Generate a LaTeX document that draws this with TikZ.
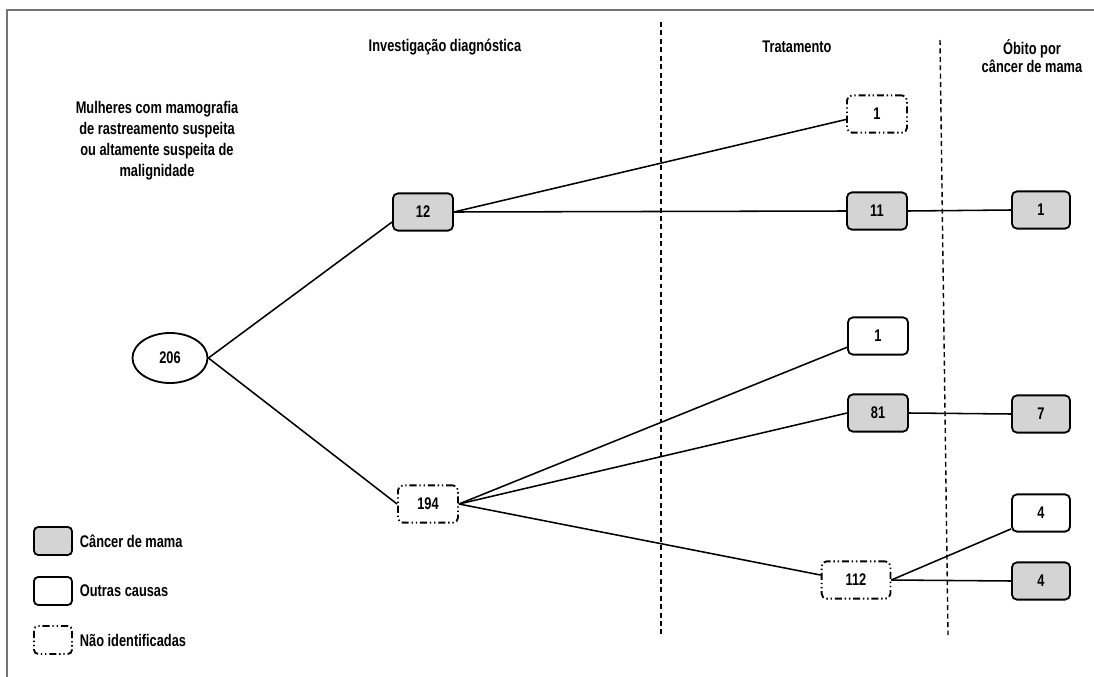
\documentclass[tikz,border=0pt]{standalone}
\usepackage{fontspec}
\setmainfont{Liberation Sans}[FakeStretch=0.76]
\usepackage{xcolor}
\usepackage{tikz}
\usetikzlibrary{shapes.geometric}
\usetikzlibrary{positioning}

\tikzset{
	boite/.style={draw,line width=1.3pt,rounded corners=3.5pt,minimum width=1.5cm,minimum height=0.93cm,inner sep=2pt},
	cancer/.style={boite,fill=black!17},
	autre/.style={boite,fill=white},
	inconnu/.style={boite,fill=white,dash pattern=on 5pt off 2pt on 1pt off 2pt on 1pt off 2pt},
	lien/.style={line width=1.1pt},
	separ/.style={line width=1pt,dash pattern=on 3.5pt off 2.5pt},
	legende/.style={line width=1.3pt,rounded corners=3pt,minimum width=0.95cm,minimum height=0.7cm}
}

\begin{document}
\begin{tikzpicture}[x=0.025cm,y=-0.025cm,font=\fontsize{12}{15}\selectfont\bfseries]
\useasboundingbox (0,0) rectangle (1094,677);
%cadre
\draw[black!55,line width=0.9pt] (7,677)--(7,10)--(1094,10);
%titres
\node (H1) at (445,47) {Investiga\c{c}\~ao diagn\'ostica};
\node (H2) at (797,47) {Tratamento};
\node[align=center,font=\fontsize{12}{13}\selectfont\bfseries] (H3) at (1032,56) {\'Obito por\\c\^ancer de mama};
\node[align=center] (P) at (157,141) {Mulheres com mamografia\\de rastreamento suspeita\\ou altamente suspeita de\\malignidade};
%separations
\draw[separ] (661,22)--(661,635);
\draw[separ] (940,40)--(948,635);

%arbre
\node[ellipse,draw,line width=1.3pt,minimum width=1.875cm,minimum height=1.25cm] (R) at (170,358) {206};
\node[cancer] (A) at (423,212) {12};
\node[inconnu] (B) at (428,504) {194};
\node[inconnu] (T1) at (877,114) {1};
\node[cancer] (T2) at (877,211) {11};
\node[autre] (T3) at (878,336) {1};
\node[cancer] (T4) at (878,413) {81};
\node[inconnu,minimum width=1.72cm] (T5) at (856,580) {112};
\node[cancer,minimum width=1.45cm] (O1) at (1041,210) {1};
\node[cancer,minimum width=1.45cm] (O2) at (1041,414) {7};
\node[autre,minimum width=1.45cm] (O3) at (1041,513) {4};
\node[cancer,minimum width=1.45cm] (O4) at (1041,581) {4};

\draw[lien] (R.east) -- (A.198);
\draw[lien] (R.east) -- (B.west);
\draw[lien] (A.east) -- (T1.190);
\draw[lien] (A.east) -- (T2.west);
\draw[lien] (T2.east) -- (O1.west);
\draw[lien] (B.east) -- (T3.200);
\draw[lien] (B.east) -- (T4.west);
\draw[lien] (B.east) -- (T5.172);
\draw[lien] (T4.east) -- (O2.west);
\draw[lien] (T5.east) -- (O3.208);
\draw[lien] (T5.east) -- (O4.west);

%legende
\node[legende,draw,fill=black!17] (L1) at (53,541) {};
\node[legende,draw] (L2) at (53,591) {};
\node[legende,draw,dash pattern=on 5pt off 2pt on 1pt off 2pt on 1pt off 2pt] (L3) at (53,640) {};
\node[right=0.05cm of L1] (E1) {C\^ancer de mama};
\node[right=0.05cm of L2] (E2) {Outras causas};
\node[right=0.05cm of L3] (E3) {N\~ao identificadas};
\end{tikzpicture}
\end{document}
